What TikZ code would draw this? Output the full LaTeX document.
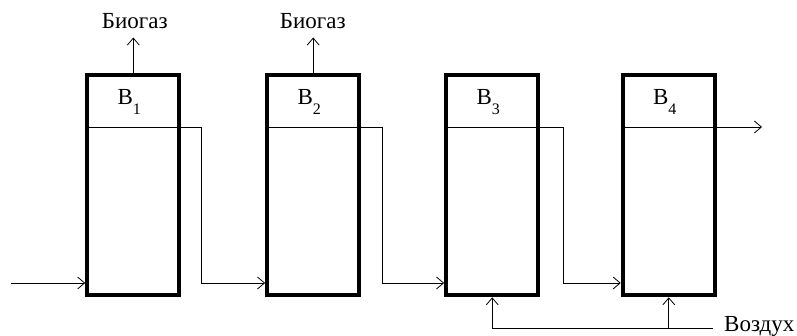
\documentclass[tikz,border=0pt]{standalone}
\usepackage{fontspec}
\setmainfont{Liberation Serif}
\usetikzlibrary{arrows.meta}
\newcommand\tanksub[1]{\raisebox{-10.5pt}{\fontsize{16}{16}\selectfont #1}}
\begin{document}
\begin{tikzpicture}[x=1pt,y=-1pt,
  tank/.style={draw, line width=4.2pt, minimum width=92pt, minimum height=220.4pt, inner sep=0pt},
  flow/.style={line width=0.8pt},
  arr/.style={flow, -{Straight Barb[length=7pt,width=12pt]}},
  lbl/.style={font=\fontsize{23}{26}\selectfont, inner sep=0pt}
]
\useasboundingbox (0,0) rectangle (797,336);
\foreach \i/\x in {1/133.3,2/313.2,3/492.2,4/668.8} {
  \node[tank] (b\i) at (\x,185) {};
  \draw[flow] (b\i.west |- 0,127) -- (b\i.east |- 0,127);
  \node[lbl, anchor=base] (l\i) at (\x-4,104.5) {B\tanksub{\i}};
}
% biogas
\node[lbl, anchor=base] (g1) at (134.8,28.5) {Биогаз};
\node[lbl, anchor=base] (g2) at (312.8,28.5) {Биогаз};
\draw[arr] (b1.north) -- (b1.north |- 0,37.5);
\draw[arr] (b2.north) -- (b2.north |- 0,37.5);
% inlet
\coordinate (in) at (11,283);
\draw[arr] (in) -- (in -| b1.west);
% transfers
\coordinate (k1) at (201,283);
\coordinate (k2) at (382,283);
\coordinate (k3) at (563,283);
\draw[arr] (b1.east |- 0,127) -| (k1) -- (k1 -| b2.west);
\draw[arr] (b2.east |- 0,127) -| (k2) -- (k2 -| b3.west);
\draw[arr] (b3.east |- 0,127) -| (k3) -- (k3 -| b4.west);
% outlet
\coordinate (out) at (762,127);
\draw[arr] (b4.east |- 0,127) -- (out);
% air
\node[lbl, anchor=base west] (air) at (724,331) {Воздух};
\coordinate (a0) at (713,328.3);
\draw[arr] (a0) -| (b3.south);
\draw[arr] (b4.south |- a0) -- (b4.south);
\end{tikzpicture}
\end{document}
